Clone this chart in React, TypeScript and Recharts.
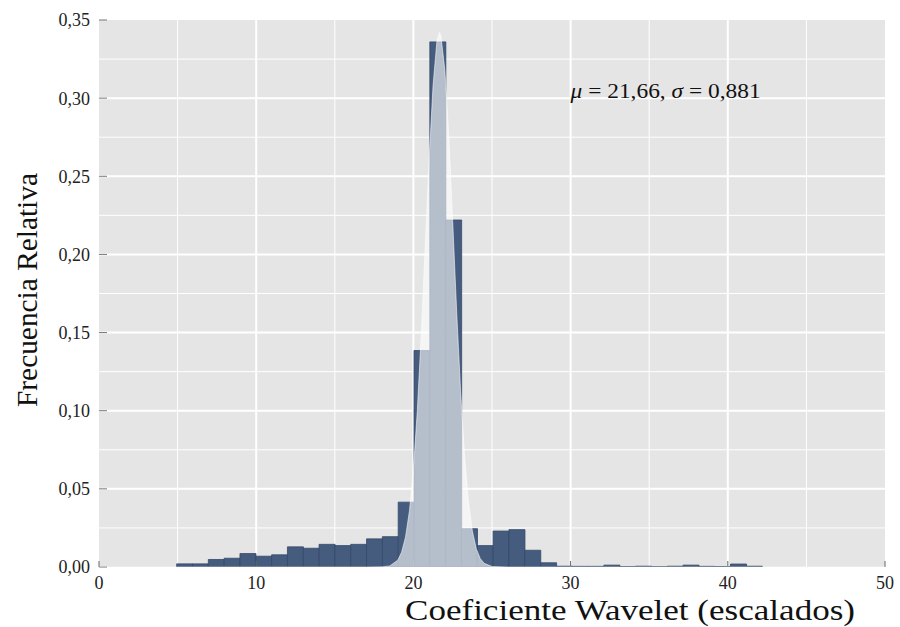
import React from 'react';
import {
  ComposedChart,
  Bar,
  Area,
  XAxis,
  YAxis,
  CartesianGrid,
  ReferenceDot,
} from 'recharts';

// ---- data ----
const binCenters = [
  5.443, 6.45, 7.457, 8.463, 9.47, 10.476, 11.483, 12.49, 13.496, 14.503,
  15.509, 16.516, 17.522, 18.529, 19.536, 20.542, 21.549, 22.555, 23.562,
  24.569, 25.575, 26.582, 27.588, 28.595, 29.602, 30.608, 31.615, 32.621,
  33.628, 34.634, 35.641, 36.648, 37.654, 38.661, 39.667, 40.674, 41.681,
];
const relFreq = [
  0.002, 0.002, 0.0048, 0.0056, 0.0086, 0.0069, 0.0078, 0.0129, 0.012, 0.0145,
  0.0137, 0.0145, 0.018, 0.0194, 0.0415, 0.1385, 0.336, 0.222, 0.0245,
  0.0137, 0.023, 0.0239, 0.0107, 0.0027, 0.0005, 0.0004, 0.0004, 0.0012,
  0.0003, 0.0005, 0.0002, 0.0005, 0.0012, 0.0004, 0.0003, 0.0019, 0.0005,
];
const curveX = [
  0, 17, 18, 18.5, 19, 19.25, 19.5, 19.75, 20, 20.25, 20.5, 20.75, 21, 21.25,
  21.5, 21.66, 21.75, 22, 22.25, 22.5, 22.75, 23, 23.25, 23.5, 23.75, 24,
  24.25, 24.5, 25, 26, 50,
];
const curveY = [
  0, 0, 0.0001, 0.0007, 0.0043, 0.0095, 0.0192, 0.036, 0.0625, 0.1, 0.149,
  0.205, 0.261, 0.308, 0.337, 0.342, 0.34, 0.318, 0.276, 0.221, 0.164, 0.113,
  0.072, 0.042, 0.023, 0.0117, 0.0054, 0.0024, 0.0003, 0, 0,
];
const xTicks = [0, 10, 20, 30, 40, 50];
const yTicks = [0, 0.05, 0.1, 0.15, 0.2, 0.25, 0.3, 0.35];
const xMinor = [5, 15, 25, 35, 45];
const xMajor = [10, 20, 30, 40];
const yMinor = [0.025, 0.075, 0.125, 0.175, 0.225, 0.275, 0.325];
const yMajor = [0.05, 0.1, 0.15, 0.2, 0.25, 0.3];
const xTitle = 'Coeficiente Wavelet (escalados)';
const yTitle = 'Frecuencia Relativa';
const muText = '21,66';
const sigmaText = '0,881';

const bins = binCenters.map((x, i) => ({ x, freq: relFreq[i] }));
const curve = curveX.map((x, i) => ({ x, y: curveY[i] }));

const FONT = '"Liberation Serif", "DejaVu Serif", serif';
const W = 900;
const H = 627;
const MARGIN = { top: 20, right: 15, left: 0, bottom: 0 };
const fmtY = (v: number) => v.toFixed(2).replace('.', ',');

const XTitle = (props: any) => {
  const vb = props.viewBox || { x: 99, y: 567 };
  return (
    <text
      x={vb.x + 306}
      y={620}
      fontFamily={FONT}
      fontSize={29}
      fill="#111"
      textLength={450}
      lengthAdjust="spacingAndGlyphs"
    >
      {xTitle}
    </text>
  );
};

const YTitle = () => (
  <text
    x={36.5}
    y={290}
    transform="rotate(-90, 36.5, 290)"
    textAnchor="middle"
    fontFamily={FONT}
    fontSize={29}
    fill="#111"
    textLength={234}
    lengthAdjust="spacingAndGlyphs"
  >
    {yTitle}
  </text>
);

const Annotation = (props: any) => (
  <text
    x={props.cx}
    y={props.cy}
    fontFamily={FONT}
    fontSize={20}
    fill="#111"
    textLength={190}
    lengthAdjust="spacingAndGlyphs"
  >
    <tspan fontStyle="italic">μ</tspan>
    {` = ${muText}, `}
    <tspan fontStyle="italic">σ</tspan>
    {` = ${sigmaText}`}
  </text>
);

const tickStyle = { fill: '#222', fontSize: 18, fontFamily: FONT };

export default function App() {
  return (
    <div style={{ position: 'absolute', left: 0, top: 0, width: W, height: H, background: '#fff' }}>
      <div style={{ position: 'absolute', left: 0, top: 0 }}>
        <ComposedChart width={W} height={H} data={bins} margin={MARGIN} barCategoryGap={0} barGap={0}>
          <CartesianGrid
            fill="#e5e5e5"
            fillOpacity={1}
            stroke="#ffffff"
            strokeWidth={1}
            verticalValues={xMinor}
            horizontalValues={yMinor}
          />
          <CartesianGrid
            stroke="#ffffff"
            strokeWidth={2}
            verticalValues={xMajor}
            horizontalValues={yMajor}
          />
          <XAxis
            type="number"
            dataKey="x"
            domain={[0, 50]}
            ticks={xTicks}
            interval={0}
            allowDataOverflow
            height={60}
            axisLine={false}
            tickLine={{ stroke: '#666' }}
            tickSize={-6}
            tickMargin={15}
            tick={tickStyle}
            label={XTitle}
          />
          <YAxis
            type="number"
            domain={[0, 0.35]}
            ticks={yTicks}
            interval={0}
            allowDataOverflow
            width={99}
            axisLine={false}
            tickLine={{ stroke: '#777' }}
            tickSize={-8}
            tickMargin={17}
            tick={tickStyle}
            tickFormatter={fmtY}
            label={YTitle}
          />
          <Bar
            dataKey="freq"
            fill="#465c7e"
            stroke="#34496a"
            strokeWidth={0.8}
            isAnimationActive={false}
          />
        </ComposedChart>
      </div>
      <div style={{ position: 'absolute', left: 0, top: 0 }}>
        <ComposedChart width={W} height={H} data={curve} margin={MARGIN}>
          <XAxis
            type="number"
            dataKey="x"
            domain={[0, 50]}
            ticks={xTicks}
            allowDataOverflow
            height={60}
            axisLine={false}
            tickLine={false}
            tick={false}
          />
          <YAxis
            type="number"
            domain={[0, 0.35]}
            ticks={yTicks}
            allowDataOverflow
            width={99}
            axisLine={false}
            tickLine={false}
            tick={false}
          />
          <Area
            type="linear"
            dataKey="y"
            fill="#ffffff"
            fillOpacity={0.6}
            stroke="#ffffff"
            strokeOpacity={0.55}
            strokeWidth={1}
            dot={false}
            activeDot={false}
            isAnimationActive={false}
          />
          <ReferenceDot x={30} y={0.3} r={0} shape={Annotation} />
        </ComposedChart>
      </div>
    </div>
  );
}
